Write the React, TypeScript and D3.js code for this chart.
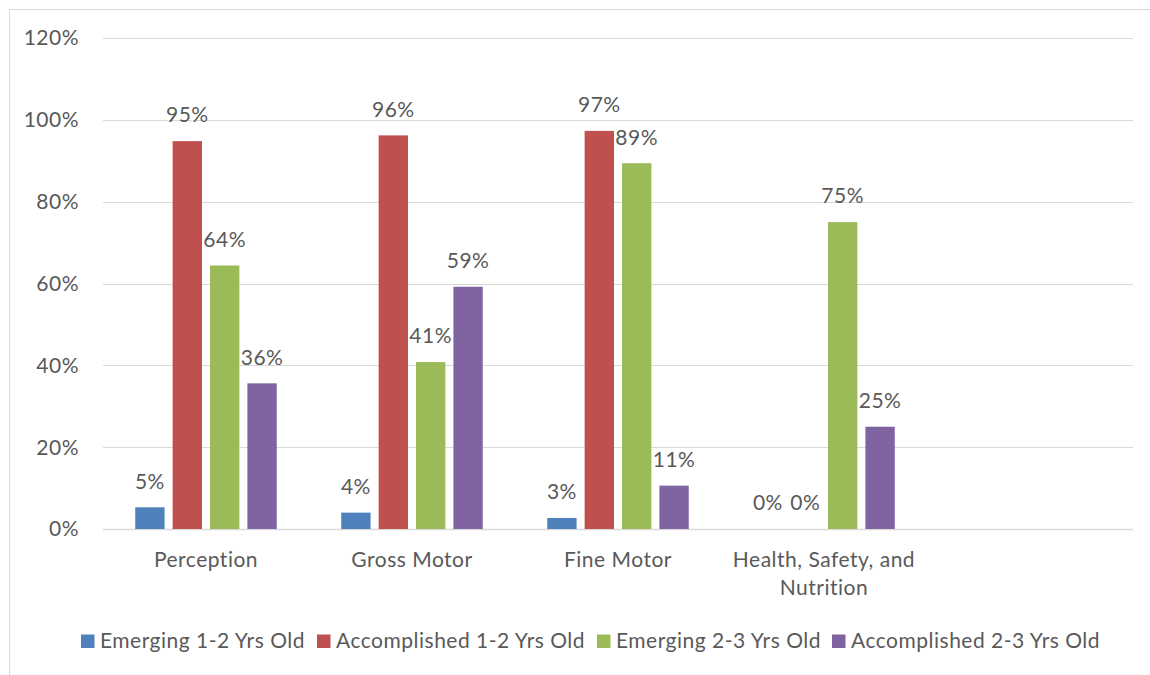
import { useEffect, useRef } from 'react';
import * as d3 from 'd3';

const categories = ['Perception', 'Gross Motor', 'Fine Motor', 'Health, Safety, and Nutrition', ''];
const seriesNames = [
  'Emerging 1-2 Yrs Old',
  'Accomplished 1-2 Yrs Old',
  'Emerging 2-3 Yrs Old',
  'Accomplished 2-3 Yrs Old',
];
const emerging12 = [0.053, 0.04, 0.027, 0];
const accomplished12 = [0.948, 0.962, 0.973, 0];
const emerging23 = [0.644, 0.408, 0.894, 0.75];
const accomplished23 = [0.356, 0.592, 0.106, 0.25];
const yTicks = [0, 0.2, 0.4, 0.6, 0.8, 1.0, 1.2];
const colors = ['#4F81BD', '#C0504D', '#9BBB59', '#8064A2'];

const W = 1150;
const H = 675;
const FONT = 'Lato, Carlito, Calibri, sans-serif';
const FS = 21;
const LS = '0.5px';
const TEXT = '#595959';

const App = () => {
  const svgRef = useRef<SVGSVGElement>(null);

  useEffect(() => {
    document.body.style.margin = '0';
    if (!svgRef.current) return;
    const svg = d3.select(svgRef.current);
    svg.selectAll('*').remove();

    const series = [emerging12, accomplished12, emerging23, accomplished23];
    const left = 103;
    const right = 1133;
    const top = 38;
    const bottom = 529;

    // chart frame (cropped on right/bottom)
    svg.append('rect')
      .attr('x', 9.5).attr('y', 9.5)
      .attr('width', 1300).attr('height', 1000)
      .attr('fill', '#fff').attr('stroke', '#D9D9D9');

    const x = d3.scaleBand().domain(categories.map((c, i) => String(i))).range([left, right]);
    const y = d3.scaleLinear().domain([0, 1.2]).range([bottom, top]);

    const bw = x.bandwidth();
    const barW = bw * 0.1425;
    const gap = bw * 0.039;
    const groupW = barW * 4 + gap * 3;
    const off = (bw - groupW) / 2;

    const txt = (sel: any) => sel
      .attr('font-family', FONT).attr('font-size', FS)
      .attr('letter-spacing', LS).attr('fill', TEXT);

    // gridlines
    svg.append('g').selectAll('line')
      .data(yTicks).enter().append('line')
      .attr('x1', left).attr('x2', right)
      .attr('y1', d => Math.round(y(d)) + 0.5).attr('y2', d => Math.round(y(d)) + 0.5)
      .attr('stroke', '#D9D9D9').attr('stroke-width', d => (d === 0 ? 1.5 : 1));

    // y tick labels
    svg.append('g').selectAll('text')
      .data(yTicks).enter().append('text')
      .attr('x', 79).attr('y', d => y(d))
      .attr('dy', '0.35em')
      .attr('text-anchor', 'end')
      .call(txt)
      .text(d => `${Math.round(d * 100)}%`);

    // bars + labels
    series.forEach((vals, si) => {
      const g = svg.append('g');
      const bx = (i: number) => (x(String(i)) || 0) + off + si * (barW + gap);
      g.selectAll('rect')
        .data(vals).enter().append('rect')
        .attr('x', (d, i) => bx(i))
        .attr('y', d => y(d))
        .attr('width', barW)
        .attr('height', d => bottom - y(d))
        .attr('fill', colors[si]);
      g.selectAll('text')
        .data(vals).enter().append('text')
        .attr('x', (d, i) => bx(i) + barW / 2)
        .attr('y', d => y(d) - 26)
        .attr('dy', '0.35em')
        .attr('text-anchor', 'middle')
        .call(txt)
        .text(d => `${Math.round(d * 100)}%`);
    });

    // category labels (wrapped)
    const wrapped: { [k: string]: string[] } = {
      'Health, Safety, and Nutrition': ['Health, Safety, and', 'Nutrition'],
    };
    categories.forEach((c, i) => {
      const lines = wrapped[c] || [c];
      const t = svg.append('text')
        .attr('text-anchor', 'middle')
        .call(txt);
      lines.forEach((ln, li) => {
        t.append('tspan')
          .attr('x', (x(String(i)) || 0) + bw / 2)
          .attr('y', 560 + li * 28)
          .attr('dy', '0.35em')
          .text(ln);
      });
    });

    // legend
    const legendX = [81, 317, 597, 832];
    const lg = svg.append('g');
    seriesNames.forEach((name, i) => {
      lg.append('rect')
        .attr('x', legendX[i]).attr('y', 634.5)
        .attr('width', 13.5).attr('height', 13.5)
        .attr('fill', colors[i]);
      lg.append('text')
        .attr('x', legendX[i] + 19).attr('y', 641)
        .attr('dy', '0.35em')
        .call(txt)
        .text(name);
    });
  }, []);

  return <svg ref={svgRef} width={W} height={H} style={{ display: 'block' }} />;
};

export default App;
